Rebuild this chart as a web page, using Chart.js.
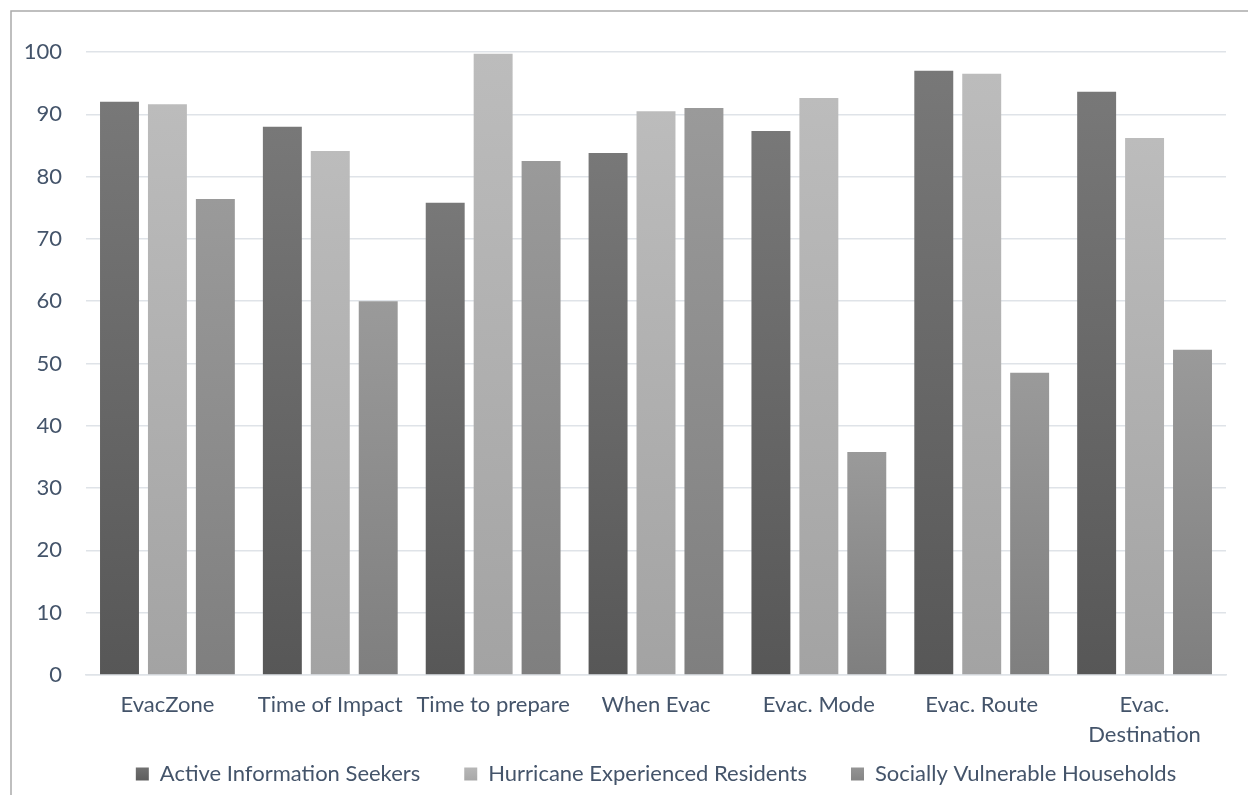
<!DOCTYPE html>
<html>
<head>
<meta charset="utf-8">
<script src="https://cdn.jsdelivr.net/npm/chart.js@4/dist/chart.umd.min.js"></script>
<style>
  html, body { margin: 0; padding: 0; background: #ffffff; }
  #wrap { width: 1248px; height: 795px; position: relative; }
</style>
</head>
<body>
<div id="wrap"><canvas id="chart"></canvas></div>
<script>
// Categories of evacuation information
const categories = ['EvacZone', 'Time of Impact', 'Time to prepare', 'When Evac', 'Evac. Mode', 'Evac. Route', ['Evac.', 'Destination']];

// Share (%) per audience group
const activeSeekers        = [92.0, 88.0, 75.8, 83.8, 87.3, 97.0, 93.6];
const experiencedResidents = [91.6, 84.1, 99.7, 90.5, 92.6, 96.5, 86.2];
const vulnerableHouseholds = [76.4, 60.0, 82.5, 91.0, 35.8, 48.5, 52.2];

const seriesNames = ['Active Information Seekers', 'Hurricane Experienced Residents', 'Socially Vulnerable Households'];

// Value axis range
const yMin = 0;
const yMax = 100;
const yStep = 10;

const TEXT = '#44546A';
const GRID = '#dfe3e8';
const FONT = { family: 'Lato', size: 22 };

// top / bottom shades of each series' vertical gradient
const shades = [
  ['#787878', '#575757'],
  ['#bcbcbc', '#a3a3a3'],
  ['#9a9a9a', '#7f7f7f']
];

function barFill(top, bottom) {
  return (ctx) => {
    const chart = ctx.chart;
    if (!chart.chartArea || ctx.type !== 'data') return bottom;
    const y = chart.scales.y;
    const y0 = y.getPixelForValue(ctx.raw);
    const y1 = y.getPixelForValue(0);
    const g = chart.ctx.createLinearGradient(0, y0, 0, y1);
    g.addColorStop(0, top);
    g.addColorStop(1, bottom);
    return g;
  };
}

const seriesData = [activeSeekers, experiencedResidents, vulnerableHouseholds];

const datasets = seriesData.map((vals, i) => ({
  label: seriesNames[i],
  data: vals,
  backgroundColor: barFill(shades[i][0], shades[i][1]),
  borderWidth: 0,
  categoryPercentage: 0.883,
  barPercentage: 0.8125
}));

const LEGEND_GAP = 44;     // space between legend entries
const LEGEND_HEIGHT = 42;  // height reserved for the legend row

// outer frame of the chart area
const framePlugin = {
  id: 'frame',
  beforeDraw(chart) {
    const c = chart.ctx;
    c.save();
    c.strokeStyle = '#ababab';
    c.lineWidth = 1.5;
    c.strokeRect(11, 11, chart.width + 40, chart.height + 40);
    c.restore();
  }
};

// legend: wide spacing between entries with a compact row height,
// centred under the plot area, with gradient-filled swatches
const legendPlugin = {
  id: 'legendTweaks',
  beforeLayout(chart) {
    const lg = chart.legend;
    if (!lg || lg._tweaked) return;
    const origFit = lg.fit.bind(lg);
    lg.fit = function () {
      origFit();
      this.height = LEGEND_HEIGHT;
    };
    const origDraw = lg.draw.bind(lg);
    lg.draw = function () {
      const area = chart.chartArea;
      const innerPad = (LEGEND_HEIGHT - FONT.size) / 2;
      const dy = LEGEND_GAP - innerPad;
      const dx = (area.left + area.right) / 2 - (this.left + this.right) / 2;
      const saved = { top: this.top, left: this.left, right: this.right };
      this.top -= dy;
      this.left += dx; this.right += dx;
      origDraw();
      Object.assign(this, saved);
    };
    lg._tweaked = true;
  },
  beforeDraw(chart) {
    const lg = chart.legend;
    if (!lg || !lg.legendItems) return;
    const top = lg.top + (LEGEND_HEIGHT - FONT.size) / 2;
    lg.legendItems.forEach((item, i) => {
      const g = chart.ctx.createLinearGradient(0, top, 0, top + FONT.size);
      g.addColorStop(0, shades[i][0]);
      g.addColorStop(1, shades[i][1]);
      item.fillStyle = g;
    });
  }
};

new Chart(document.getElementById('chart'), {
  type: 'bar',
  data: { labels: categories, datasets },
  options: {
    responsive: true,
    maintainAspectRatio: false,
    animation: false,
    layout: { padding: { left: 0, right: 22, top: 52, bottom: 0 } },
    plugins: {
      legend: {
        position: 'bottom',
        labels: {
          color: TEXT,
          font: FONT,
          boxWidth: 13,
          boxHeight: 13,
          padding: LEGEND_GAP
        }
      },
      tooltip: { enabled: false }
    },
    scales: {
      x: {
        grid: { display: false, drawTicks: false },
        border: { display: true, color: GRID, width: 1.5 },
        ticks: {
          color: TEXT,
          font: { ...FONT, lineHeight: 1.36 },
          padding: 15,
          maxRotation: 0,
          autoSkip: false
        },
        afterFit(scale) { scale.height = 78; }
      },
      y: {
        min: yMin,
        max: yMax,
        grid: { color: GRID, lineWidth: 1.5, drawTicks: false },
        border: { display: false },
        ticks: {
          stepSize: yStep,
          color: TEXT,
          font: FONT,
          padding: 24
        },
        afterFit(scale) { scale.width = 86; }
      }
    }
  },
  plugins: [framePlugin, legendPlugin]
});
</script>
</body>
</html>
